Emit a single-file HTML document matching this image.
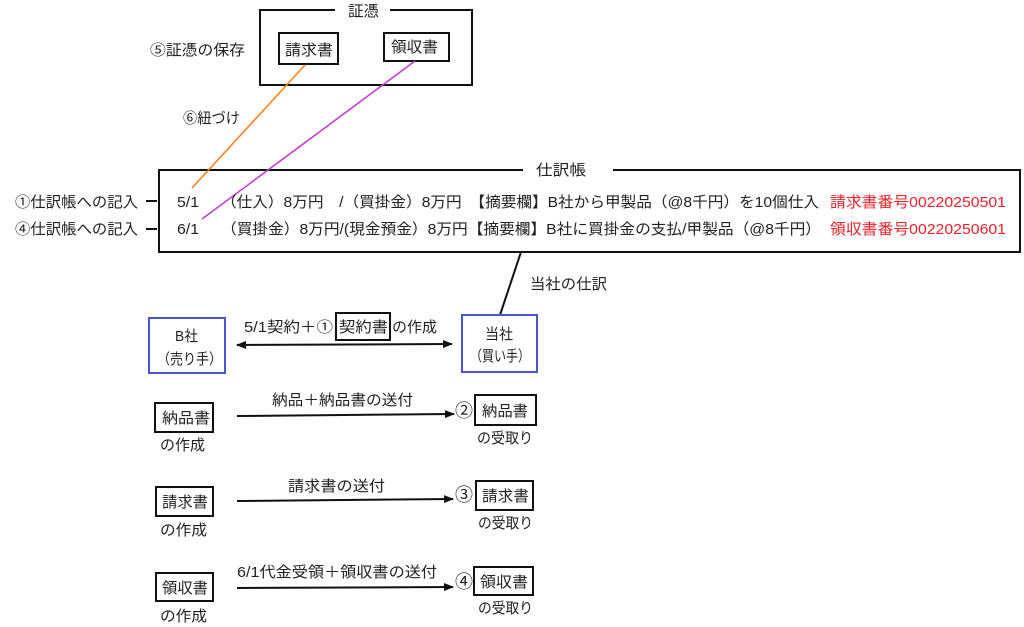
<!DOCTYPE html>
<html><head><meta charset="utf-8"><style>
html,body{margin:0;padding:0;background:#fff;width:1024px;height:627px;overflow:hidden}
svg{display:block}
text{font-family:"Liberation Sans","Noto Sans CJK JP",sans-serif;font-size:15px;fill:#222}
.c{font-size:18px}
.r{fill:#e8242b}
</style></head><body>
<svg width="1024" height="627" viewBox="0 0 1024 627">
<defs><marker id="a" markerWidth="10" markerHeight="8" refX="9" refY="4" orient="auto-start-reverse" markerUnits="userSpaceOnUse"><path d="M0,0 L10,4 L0,8 Z" fill="#111"/></marker></defs>
<g fill="none" stroke="#111" stroke-width="2">
<path d="M335,10 H260 V85 H472 V10 H390"/>
<rect x="279" y="33" width="59" height="31"/>
<rect x="384" y="33" width="65" height="28"/>
<path d="M523,170 H159 V252 H1020 V170 H613"/>
<line x1="146" y1="201" x2="157" y2="201"/>
<line x1="146" y1="229" x2="157" y2="229"/>
<rect x="336" y="313" width="54" height="27"/>
<rect x="155" y="403" width="58" height="29"/>
<rect x="475" y="395" width="61" height="30"/>
<rect x="156" y="487" width="57" height="29"/>
<rect x="476" y="481" width="57" height="29"/>
<rect x="156" y="573" width="57" height="28"/>
<rect x="474" y="567" width="59" height="28"/>
</g>
<line x1="305" y1="65" x2="192" y2="188" stroke="#f5841f" stroke-width="1.6"/>
<line x1="415" y1="61" x2="202" y2="219" stroke="#c040c8" stroke-width="1.6"/>
<line x1="521" y1="252" x2="500" y2="315" stroke="#111" stroke-width="2"/>
<rect x="149" y="318" width="76" height="55" fill="none" stroke="#4a55d0" stroke-width="2"/>
<rect x="462" y="315" width="75" height="57" fill="none" stroke="#4a55d0" stroke-width="2"/>
<g stroke="#111" stroke-width="2" fill="none">
<line x1="237" y1="345" x2="452" y2="344" marker-start="url(#a)" marker-end="url(#a)"/>
<line x1="237" y1="416" x2="454" y2="414" marker-end="url(#a)"/>
<line x1="237" y1="501" x2="453" y2="499" marker-end="url(#a)"/>
<line x1="237" y1="588" x2="453" y2="587" marker-end="url(#a)"/>
</g>
<text x="348" y="16" textLength="31" lengthAdjust="spacingAndGlyphs">証憑</text>
<text x="150" y="55" textLength="95" lengthAdjust="spacingAndGlyphs">⑤証憑の保存</text>
<text x="285" y="55" textLength="48" lengthAdjust="spacingAndGlyphs">請求書</text>
<text x="391" y="52" textLength="47" lengthAdjust="spacingAndGlyphs">領収書</text>
<text x="183" y="123" textLength="57" lengthAdjust="spacingAndGlyphs">⑥紐づけ</text>
<text x="536" y="175" textLength="50" lengthAdjust="spacingAndGlyphs">仕訳帳</text>
<text x="15" y="207" textLength="123" lengthAdjust="spacingAndGlyphs">①仕訳帳への記入</text>
<text x="15" y="234" textLength="123" lengthAdjust="spacingAndGlyphs">④仕訳帳への記入</text>
<text x="177" y="207" textLength="22" lengthAdjust="spacingAndGlyphs">5/1</text>
<text x="177" y="234" textLength="22" lengthAdjust="spacingAndGlyphs">6/1</text>
<text x="221" y="207" textLength="598" lengthAdjust="spacingAndGlyphs">（仕入）8万円　/（買掛金）8万円　【摘要欄】B社から甲製品（@8千円）を10個仕入</text>
<text x="221" y="234" textLength="600" lengthAdjust="spacingAndGlyphs">（買掛金）8万円/(現金預金）8万円【摘要欄】B社に買掛金の支払/甲製品（@8千円）</text>
<text class="r" x="830" y="207" textLength="176" lengthAdjust="spacingAndGlyphs">請求書番号00220250501</text>
<text class="r" x="830" y="234" textLength="176" lengthAdjust="spacingAndGlyphs">領収書番号00220250601</text>
<text x="530" y="289" textLength="77" lengthAdjust="spacingAndGlyphs">当社の仕訳</text>
<text x="175" y="341" textLength="23" lengthAdjust="spacingAndGlyphs">B社</text>
<text x="157" y="364" textLength="65" lengthAdjust="spacingAndGlyphs">（売り手）</text>
<text x="485" y="339" textLength="28" lengthAdjust="spacingAndGlyphs">当社</text>
<text x="470" y="361" textLength="60" lengthAdjust="spacingAndGlyphs">（買い手）</text>
<text x="244" y="332" textLength="89" lengthAdjust="spacingAndGlyphs">5/1契約＋①</text>
<text x="339" y="332" textLength="49" lengthAdjust="spacingAndGlyphs">契約書</text>
<text x="392" y="332" textLength="45" lengthAdjust="spacingAndGlyphs">の作成</text>
<text x="272" y="405" textLength="141" lengthAdjust="spacingAndGlyphs">納品＋納品書の送付</text>
<text x="162" y="423" textLength="48" lengthAdjust="spacingAndGlyphs">納品書</text>
<text x="160" y="450" textLength="45" lengthAdjust="spacingAndGlyphs">の作成</text>
<text class="c" x="455" y="417">②</text>
<text x="482" y="416" textLength="46" lengthAdjust="spacingAndGlyphs">納品書</text>
<text x="477" y="443" textLength="56" lengthAdjust="spacingAndGlyphs">の受取り</text>
<text x="288" y="491" textLength="97" lengthAdjust="spacingAndGlyphs">請求書の送付</text>
<text x="162" y="507" textLength="46" lengthAdjust="spacingAndGlyphs">請求書</text>
<text x="160" y="535" textLength="47" lengthAdjust="spacingAndGlyphs">の作成</text>
<text class="c" x="455" y="501">③</text>
<text x="482" y="501" textLength="47" lengthAdjust="spacingAndGlyphs">請求書</text>
<text x="478" y="528" textLength="55" lengthAdjust="spacingAndGlyphs">の受取り</text>
<text x="237" y="577" textLength="200" lengthAdjust="spacingAndGlyphs">6/1代金受領＋領収書の送付</text>
<text x="162" y="593" textLength="46" lengthAdjust="spacingAndGlyphs">領収書</text>
<text x="160" y="621" textLength="47" lengthAdjust="spacingAndGlyphs">の作成</text>
<text class="c" x="455" y="588">④</text>
<text x="480" y="587" textLength="48" lengthAdjust="spacingAndGlyphs">領収書</text>
<text x="478" y="613" textLength="55" lengthAdjust="spacingAndGlyphs">の受取り</text>
</svg>
</body></html>
